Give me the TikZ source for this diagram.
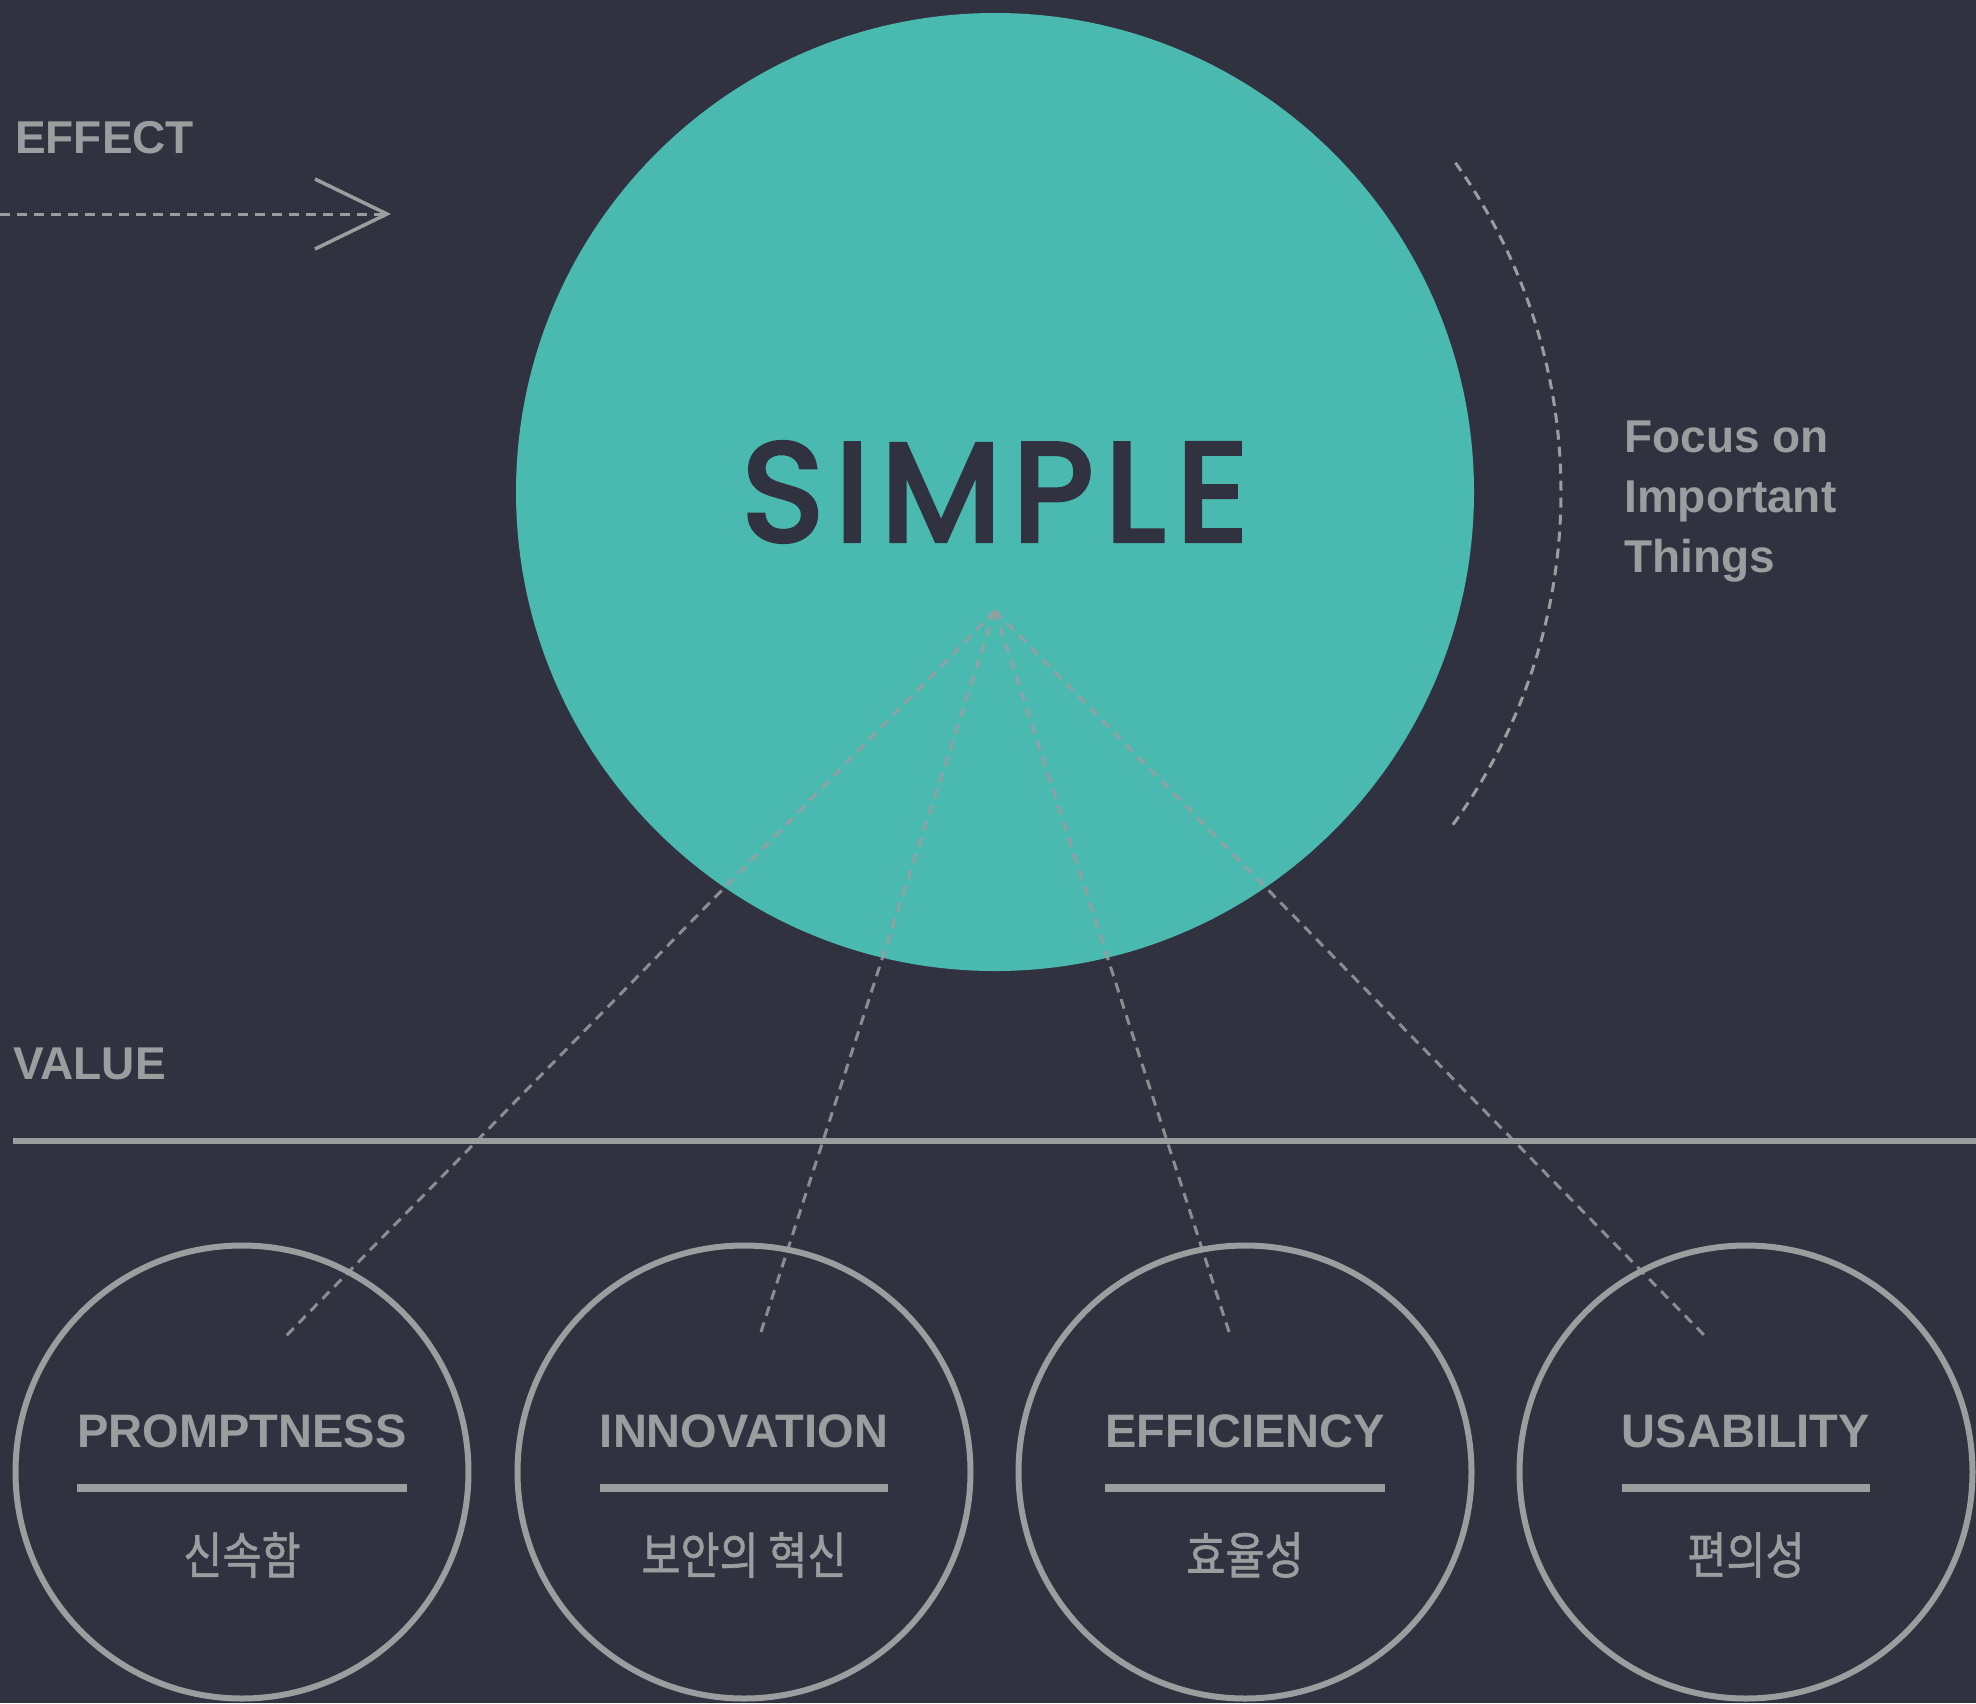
\documentclass[tikz,border=0pt]{standalone}
\usepackage{fontspec}
\usepackage{graphicx}
\setmainfont{Liberation Sans}
\newfontfamily\kofont{Noto Sans CJK KR}[FakeBold=1.2]
\newfontfamily\simplefont{Poppins}[FakeBold=3.2,LetterSpace=8]
\usetikzlibrary{arrows.meta}
\definecolor{bg}{HTML}{313240}
\definecolor{teal1}{HTML}{4ABAB1}
\definecolor{lg}{HTML}{9C9D9F}
\begin{document}
\begin{tikzpicture}[x=1pt,y=-1pt,
  lbl/.style={text=lg,font=\fontsize{47}{56}\selectfont\bfseries,inner sep=0pt},
  side/.style={text=lg,font=\fontsize{46}{56}\selectfont\bfseries,inner sep=0pt},
  ko/.style={text=lg,font=\fontsize{50}{60}\selectfont\kofont,inner sep=0pt},
  ring/.style={circle,draw=lg,line width=6pt,minimum size=453pt,inner sep=0pt},
  uline/.style={draw=lg,line width=8pt},
  dline/.style={draw=lg,line width=3pt,dash pattern=on 10pt off 7pt},
]
\fill[bg] (0,0) rectangle (1976,1703);
\useasboundingbox (0,0) rectangle (1976,1703);

% big circle
\node[circle,fill=teal1,minimum size=958pt,inner sep=0pt,text=bg,
  font=\fontsize{140}{140}\selectfont\simplefont] (simple) at (995,492) {SIMPLE};

% side labels
\node[side,anchor=base west] (effect) at (15,153) {EFFECT};
\node[side,anchor=base west] (value) at (13,1079) {VALUE};
\node[side,anchor=north west,align=left,font=\fontsize{46}{60}\selectfont\bfseries] (focus) at (1624,421) {Focus on\\Important\\Things};

% effect arrow
\coordinate (a0) at (0,214);
\coordinate (a1) at (391,214);
\draw[dline,-{Straight Barb[length=72pt,width=70pt,line width=3.5pt]}] (a0) -- (a1);

% dashed arc
\draw[dline] ([shift={(-36:566pt)}]simple.center) arc[start angle=-36,end angle=36,radius=566pt];

% value line
\coordinate (h0) at (13,1141);
\coordinate (h1) at (1976,1141);
\draw[draw=lg,line width=6pt] (h0) -- (h1);

% small circles
\node[ring] (c1) at (242,1472) {};
\node[ring] (c2) at (744,1472) {};
\node[ring] (c3) at (1245,1472) {};
\node[ring] (c4) at (1746,1472) {};

\node[lbl,anchor=base] (t1) at (242,1447) {PROMPTNESS};
\node[lbl,anchor=base] (t2) at (744,1447) {INNOVATION};
\node[lbl,anchor=base] (t3) at (1245,1447) {EFFICIENCY};
\node[lbl,anchor=base] (t4) at (1746,1447) {USABILITY};

\coordinate (uy) at (0,1488);
\foreach \t in {t1,t2,t3,t4}{
  \draw[uline] (\t.west |- uy) -- (\t.east |- uy);
}

\node[ko] (k1) at (242,1555) {\scalebox{0.85}[1]{신속함}};
\node[ko] (k2) at (744,1555) {\scalebox{0.85}[1]{보안의 혁신}};
\node[ko] (k3) at (1245,1555) {\scalebox{0.85}[1]{효율성}};
\node[ko] (k4) at (1746,1555) {\scalebox{0.85}[1]{편의성}};

% dashed rays
\coordinate (apex) at (995,611);
\coordinate (e1) at (286,1336);
\coordinate (e2) at (759,1338);
\coordinate (e3) at (1231,1338);
\coordinate (e4) at (1705,1336);
\foreach \e in {e1,e2,e3,e4}{
  \draw[dline,draw opacity=0.85] (apex) -- (\e);
}
\end{tikzpicture}
\end{document}
